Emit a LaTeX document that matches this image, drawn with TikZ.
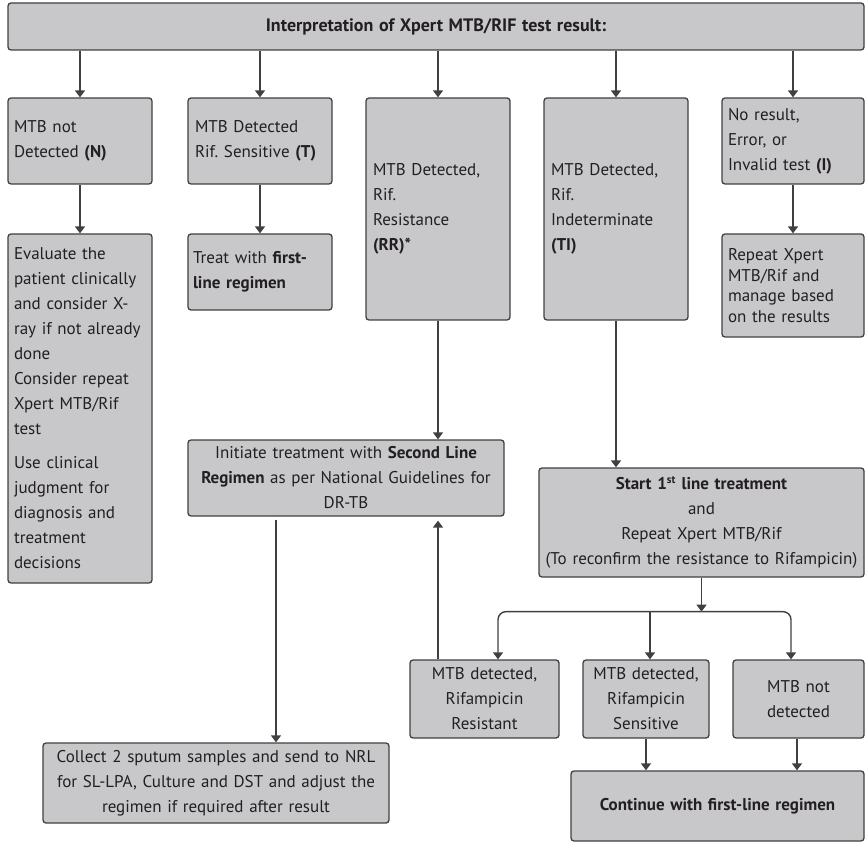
\documentclass[tikz,border=0pt]{standalone}
\usepackage{fontspec}
\setmainfont{PT Sans}
\usetikzlibrary{arrows.meta}
\frenchspacing

\definecolor{boxfill}{HTML}{C8C8CA}
\definecolor{boxline}{HTML}{404040}
\definecolor{boxtext}{HTML}{231F20}

\begin{document}
\begin{tikzpicture}[x=1pt,y=-1pt,
    every node/.style={font=\fontsize{17}{25}\selectfont, text=boxtext},
    box/.style={draw=boxline, fill=boxfill, line width=1.3pt, rounded corners=3pt, inner ysep=0pt},
    lbox/.style={box, align=left},
    cbox/.style={box, align=center},
    arr/.style={draw=boxline, line width=1.4pt, -{Triangle[width=10pt,length=7pt]}}]

             \useasboundingbox (0,0) rectangle (865,842);

             \node[cbox, minimum width=856pt, minimum height=47pt, text width=840pt, inner xsep=8pt] (top) at (436,26.5)
                  {\fontsize{18}{25}\selectfont\textbf{Interpretation of Xpert MTB/RIF test result:}};

             % first row
             \node[lbox, minimum height=86pt, text width=132pt, inner xsep=6pt] (n) at (80,141)
                  {MTB not\\Detected \textbf{(N)}};
             \node[lbox, minimum height=86pt, text width=130pt, inner xsep=7pt] (t) at (260,141)
                  {MTB Detected\\Rif. Sensitive \textbf{(T)}};
             \node[lbox, minimum height=222pt, text width=130pt, inner xsep=7pt] (rr) at (438,209)
                  {MTB Detected,\\Rif.\\Resistance\\\textbf{(RR)*}};
             \node[lbox, minimum height=222pt, text width=130pt, inner xsep=7pt] (ti) at (616,209)
                  {MTB Detected,\\Rif.\\Indeterminate\\\textbf{(TI)}};
             \node[lbox, minimum height=86pt, text width=130pt, inner xsep=6pt] (inv) at (793,141)
                  {No result,\\Error, or\\Invalid test \textbf{(I)}};

             % second row
             \node[lbox, minimum height=349pt, text width=132pt, inner xsep=6pt] (ev) at (80,408.5)
                  {Evaluate the\\patient clinically\\and consider X-\\ray if not already\\done\\Consider repeat\\Xpert MTB/Rif\\test\\[9pt]Use clinical\\judgment for\\diagnosis and\\treatment\\decisions};
             \node[lbox, minimum height=76pt, text width=134pt, inner xsep=5pt] (tr) at (260,272)
                  {Treat with \textbf{first-}\\\textbf{line regimen}};
             \node[lbox, minimum height=103pt, text width=130pt, inner xsep=6pt,
                   font=\fontsize{17}{20.5}\selectfont] (rep) at (793,285.5)
                  {Repeat Xpert\\MTB/Rif and\\manage based\\on the results};

             \node[cbox, minimum height=76pt, text width=306pt, inner xsep=5pt] (sl) at (346,478)
                  {Initiate treatment with \textbf{Second Line}\\\textbf{Regimen} as per National Guidelines for\\DR-TB};
             \node[cbox, minimum height=109pt, text width=325pt, inner xsep=0pt] (st) at (701.5,522.5)
                  {\textbf{Start 1\textsuperscript{\fontsize{11}{11}\selectfont st} line treatment}\\and\\Repeat Xpert MTB/Rif\\(To reconfirm the resistance to Rifampicin)};

             % repeat results
             \node[cbox, minimum height=78pt, text width=141pt, inner xsep=4pt] (res) at (484.5,699)
                  {MTB detected,\\Rifampicin\\Resistant};
             \node[cbox, minimum height=78pt, text width=118pt, inner xsep=4pt] (sen) at (646,699)
                  {MTB detected,\\Rifampicin\\Sensitive};
             \node[cbox, minimum height=78pt, text width=123pt, inner xsep=4pt] (nd) at (798.5,699)
                  {MTB not\\detected};

             \node[cbox, minimum height=70pt, text width=285pt, inner xsep=4pt] (con) at (717.5,806)
                  {\textbf{Continue with first-line regimen}};
             \node[cbox, minimum height=80pt, text width=338pt, inner xsep=4pt] (col) at (216,783)
                  {Collect 2 sputum samples and send to NRL\\for SL-LPA, Culture and DST and adjust the\\regimen if required after result};

             % connectors
             \foreach \b in {n,t,rr,ti,inv}
                \draw[arr] (top.south -| \b.north) -- (\b.north);
             \draw[arr] (n.south) -- (ev.north);
             \draw[arr] (t.south) -- (tr.north);
             \draw[arr] (inv.south) -- (rep.north);
             \draw[arr] (rr.south) -- (rr.south |- sl.north);
             \draw[arr] (ti.south) -- (ti.south |- st.north);

             \coordinate (fork) at ([yshift=-34pt]st.south);
             \draw[arr] (st.south) -- (fork);
             \draw[arr, rounded corners=8pt] (fork) -| ([xshift=13.5pt]res.north);
             \draw[arr, rounded corners=8pt] (fork) -| ([xshift=-7.5pt]nd.north);
             \draw[arr] ([xshift=4pt]sen.north |- fork) -- ([xshift=4pt]sen.north);

             \draw[arr] (res.north -| rr.south) -- ([yshift=-4pt]sl.south -| rr.south);
             \draw[arr] ([xshift=-70pt,yshift=-3pt]sl.south) -- ([xshift=-70pt]sl.south |- col.north);
             \draw[arr] (sen.south) -- (sen.south |- con.north);
             \draw[arr] ([xshift=-1.5pt]nd.south) -- ([xshift=-1.5pt]nd.south |- con.north);
\end{tikzpicture}
\end{document}
